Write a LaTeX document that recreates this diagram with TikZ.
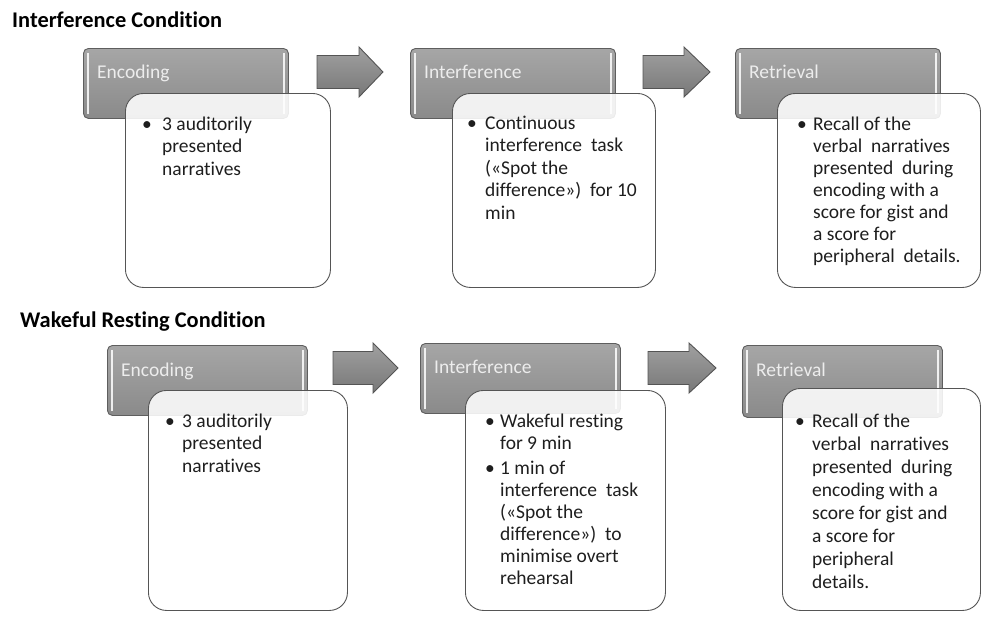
\documentclass[tikz,border=0pt]{standalone}
\usepackage{fontspec}
\setmainfont{Carlito}[Ligatures=NoCommon]
\definecolor{hdrtop}{HTML}{A6A6A6}
\definecolor{hdrbot}{HTML}{8A8A8A}
\definecolor{hdrline}{HTML}{5E5E5E}
\definecolor{hdrtxt}{HTML}{EDEDED}
\definecolor{boxline}{HTML}{555555}
\definecolor{bodytxt}{HTML}{1E1E1E}
\definecolor{arrtop}{HTML}{A0A0A0}
\definecolor{arrbot}{HTML}{787878}
\definecolor{arrline}{HTML}{545454}
\newcommand\bulletcol[1]{\makebox[#1pt][l]{\textbullet}}
\newcommand\blockarrow[5]{% name, x start, head start, tip, y centre
  \coordinate (#1) at (#4,#5);
  \draw[blk] (#2,#5-16.5) -- (#3,#5-16.5) -- (#3,#5-25) -- (#1) -- (#3,#5+25) -- (#3,#5+16.5) -- (#2,#5+16.5) -- cycle;}
\begin{document}
\begin{tikzpicture}[x=1pt,y=-1pt,
  hdr/.style={draw=hdrline, line width=0.9pt, rounded corners=5pt, top color=hdrtop, bottom color=hdrbot, inner sep=0pt, anchor=north west, minimum width=205pt, minimum height=70pt},
  txtbox/.style={draw=boxline, line width=0.9pt, rounded corners=18pt, fill=white, fill opacity=0.88, text opacity=1, inner sep=0pt, anchor=north west},
  hl/.style={draw=white, draw opacity=0.85, line width=1.6pt},
  hdrtext/.style={anchor=base west, inner sep=0pt, text=hdrtxt, font=\fontsize{19.5}{22}\selectfont},
  body/.style={anchor=base west, inner sep=0pt, text=bodytxt, font=\fontsize{19.5}{22.5}\selectfont},
  ttl/.style={anchor=base west, inner sep=0pt, text=black, font=\bfseries\fontsize{22.4}{26}\selectfont},
  blk/.style={draw=arrline, line width=0.9pt, top color=arrtop, bottom color=arrbot, line join=miter}]
\useasboundingbox (0,0) rectangle (984,619);

% titles
\node[ttl] (title1) at (12,27) {Interference Condition};
\node[ttl] (title2) at (20,327) {Wakeful Resting Condition};

% ---------- top row ----------
\node[hdr] (h1) at (83,48) {};
\node[hdr] (h2) at (410,48) {};
\node[hdr] (h3) at (735,48) {};
\foreach \h in {h1,h2,h3}{
  \draw[hl] ([xshift=5pt,yshift=-5pt]\h.north west) -- ([xshift=5pt,yshift=5pt]\h.south west);
  \draw[hl] ([xshift=-5pt,yshift=-5pt]\h.north east) -- ([xshift=-5pt,yshift=5pt]\h.south east);
}
\node[hdrtext] (h1l) at (97,78) {Encoding};
\node[hdrtext] (h2l) at (424,78) {Interference};
\node[hdrtext] (h3l) at (749,78) {Retrieval};

\node[txtbox, minimum width=205pt, minimum height=194pt] (t1) at (125,93) {};
\node[txtbox, minimum width=203pt, minimum height=194pt] (t2) at (452,93) {};
\node[txtbox, minimum width=203pt, minimum height=194pt] (t3) at (777,93) {};

\node[body] (t1txt) at (142,130) {\begin{tabular}[t]{@{}l@{}l@{}}\bulletcol{20}& 3 auditorily\\ & presented\\ & narratives\end{tabular}};
\node[body] (t2txt) at (467,129) {\begin{tabular}[t]{@{}l@{}l@{}}\bulletcol{18}& Continuous\\ & interference\ \ task\\ & («Spot the\\ & difference»)\ \ for 10\\ & min\end{tabular}};
\node[body, font=\fontsize{19.5}{22}\selectfont] (t3txt) at (797,130) {\begin{tabular}[t]{@{}l@{}l@{}}\bulletcol{16}& Recall of the\\ & verbal\ \ narratives\\ & presented\ \ during\\ & encoding with a\\ & score for gist and\\ & a score for\\ & peripheral\ \ details.\end{tabular}};

\blockarrow{a1}{317}{359}{383}{72}
\blockarrow{a2}{643}{684}{710}{72}

% ---------- bottom row ----------
\node[hdr, minimum width=200pt] (h4) at (107,345) {};
\node[hdr, minimum width=200pt] (h5) at (420,343) {};
\node[hdr, minimum width=200pt, minimum height=72pt] (h6) at (742,345) {};
\foreach \h in {h4,h5,h6}{
  \draw[hl] ([xshift=5pt,yshift=-5pt]\h.north west) -- ([xshift=5pt,yshift=5pt]\h.south west);
  \draw[hl] ([xshift=-5pt,yshift=-5pt]\h.north east) -- ([xshift=-5pt,yshift=5pt]\h.south east);
}
\node[hdrtext] (h4l) at (121,376) {Encoding};
\node[hdrtext] (h5l) at (434,373) {Interference};
\node[hdrtext] (h6l) at (756,376) {Retrieval};

\node[txtbox, minimum width=199pt, minimum height=220pt] (t4) at (148,390) {};
\node[txtbox, minimum width=200pt, minimum height=220pt] (t5) at (465,390) {};
\node[txtbox, minimum width=198pt, minimum height=222pt] (t6) at (782,388) {};

\node[body] (t4txt) at (165,427) {\begin{tabular}[t]{@{}l@{}l@{}}\bulletcol{17}& 3 auditorily\\ & presented\\ & narratives\end{tabular}};
\node[body, font=\fontsize{19.5}{22}\selectfont] (t5txt) at (485,427) {\begin{tabular}[t]{@{}l@{}l@{}}\bulletcol{15}& Wakeful resting\\ & for 9 min\\[3pt] \bulletcol{15}& 1 min of\\ & interference\ \ task\\ & («Spot the\\ & difference»)\ \ to\\ & minimise overt\\ & rehearsal\end{tabular}};
\node[body, font=\fontsize{19.5}{23}\selectfont] (t6txt) at (795,427) {\begin{tabular}[t]{@{}l@{}l@{}}\bulletcol{17}& Recall of the\\ & verbal\ \ narratives\\ & presented\ \ during\\ & encoding with a\\ & score for gist and\\ & a score for\\ & peripheral\\ & details.\end{tabular}};

\blockarrow{a3}{333}{373}{398}{368}
\blockarrow{a4}{648}{689}{716}{368}
\end{tikzpicture}
\end{document}
